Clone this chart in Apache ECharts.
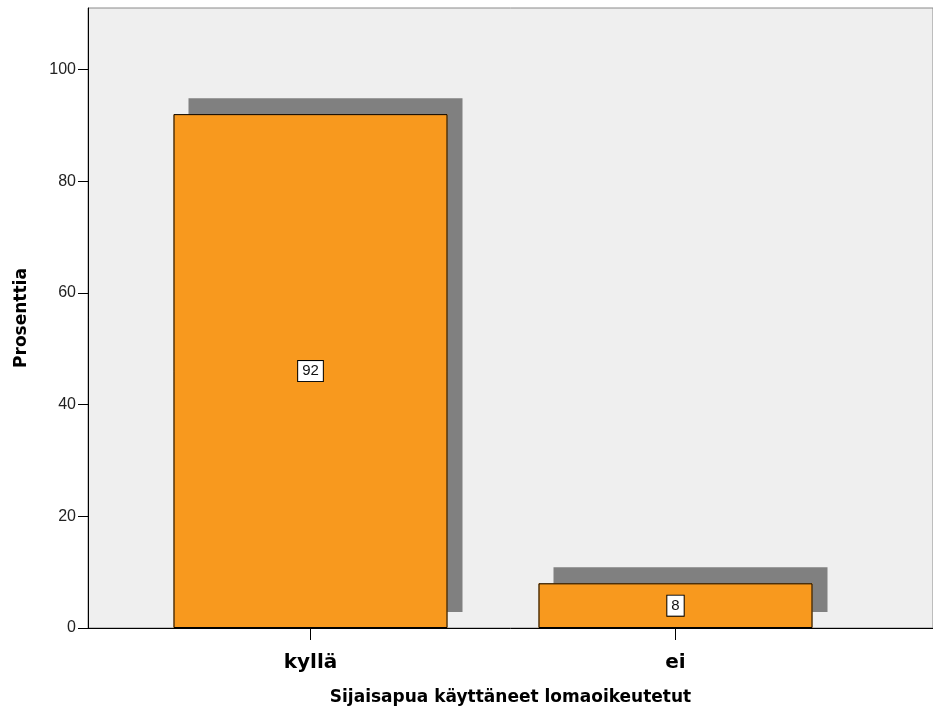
<!DOCTYPE html>
<html>
<head>
<meta charset="utf-8">
<script src="https://cdn.jsdelivr.net/npm/echarts@6/dist/echarts.min.js"></script>
<style>html,body{margin:0;padding:0;background:#fff}#c{width:933px;height:715px}</style>
</head>
<body>
<div id="c"></div>
<script>
const categories = ['kyllä', 'ei'];
const values = [92, 8];
const yTicks = [0, 20, 40, 60, 80, 100];
const yMax = 111;
const xTitle = 'Sijaisapua käyttäneet lomaoikeutetut';
const yTitle = 'Prosenttia';

const chart = echarts.init(document.getElementById('c'), null, {renderer: 'canvas'});
chart.setOption({
  animation: false,
  backgroundColor: '#ffffff',
  grid: [
    {left: 88, right: -2, top: 8, bottom: 87, show: true, backgroundColor: '#efefef', borderColor: '#8a8a8a', borderWidth: 1},
    {left: 128, right: 75, top: 8, bottom: 87}
  ],
  xAxis: [
    {gridIndex: 0, type: 'value', min: 0, max: 1,
     axisLine: {show: true, lineStyle: {color: '#000', width: 1}},
     axisTick: {show: false}, axisLabel: {show: false}, splitLine: {show: false},
     name: xTitle, nameLocation: 'middle', nameGap: 61,
     nameTextStyle: {fontFamily: 'DejaVu Sans', fontWeight: 'bold', fontSize: 17, color: '#000'}},
    {gridIndex: 1, type: 'category', data: categories,
     axisLine: {show: false},
     axisTick: {show: true, alignWithLabel: true, length: 12, lineStyle: {color: '#000'}},
     axisLabel: {fontFamily: 'DejaVu Sans', fontWeight: 'bold', fontSize: 20, color: '#000', margin: 25},
     splitLine: {show: false}}
  ],
  yAxis: [
    {gridIndex: 0, type: 'value', min: 0, max: yMax,
     axisLine: {show: true, lineStyle: {color: '#000', width: 1}},
     axisTick: {show: true, length: 10, customValues: yTicks, lineStyle: {color: '#000'}},
     axisLabel: {customValues: yTicks, fontFamily: 'Liberation Sans', fontSize: 16, color: '#222', margin: 12},
     splitLine: {show: false},
     name: yTitle, nameLocation: 'middle', nameGap: 58, nameRotate: 90,
     nameTextStyle: {fontFamily: 'DejaVu Sans', fontWeight: 'bold', fontSize: 17, color: '#000'}},
    {gridIndex: 1, type: 'value', min: 0, max: yMax, show: false, splitLine: {show: false}}
  ],
  series: [{
    type: 'bar', xAxisIndex: 1, yAxisIndex: 1,
    data: values, barWidth: 274,
    itemStyle: {color: '#F8991E', borderWidth: 0,
      shadowColor: '#808080', shadowBlur: 0, shadowOffsetX: 15, shadowOffsetY: -16},
    label: {show: false}
  }, {
    type: 'bar', xAxisIndex: 1, yAxisIndex: 1, barGap: '-100%',
    data: values, barWidth: 274,
    itemStyle: {color: '#F8991E', borderColor: '#000', borderWidth: 1},
    label: {show: true, position: 'inside', formatter: '{c}', fontFamily: 'Liberation Sans', fontSize: 15,
      color: '#111', backgroundColor: '#fff', borderColor: '#000', borderWidth: 1, padding: [3, 4, 2, 4]}
  }]
});
</script>
</body>
</html>
